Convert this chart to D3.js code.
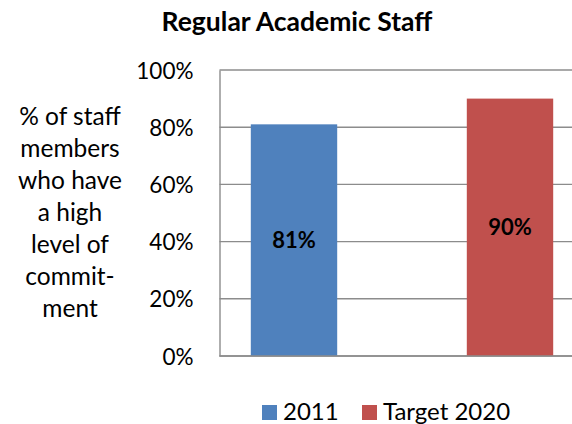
<!DOCTYPE html>
<html lang="en">
<head>
    <meta charset="utf-8" />
    <title>Regular Academic Staff</title>
    <style type="text/css">
        body { margin: 0; background: #fff; }
        text { font-family: Lato, "Open Sans", sans-serif; fill: #000; }
        .grid line { stroke: #8c8c8c; stroke-width: 1.4px; }
    </style>
    <script type="text/javascript" src="https://cdn.jsdelivr.net/npm/d3@7/dist/d3.min.js"></script>
</head>
<body>
    <div id="chart"></div>
    <script type="text/javascript">
        const categories = ['2011', 'Target 2020'];
        const values = [0.81, 0.90];
        const colors = ['#4F81BD', '#C0504D'];
        const yTicks = [0, 0.2, 0.4, 0.6, 0.8, 1.0];
        const yTitle = ['% of staff', 'members', 'who have', 'a high', 'level of', 'commit-', 'ment'];

        const width = 572, height = 424;
        const plot = {left: 219.5, right: 572, top: 70, bottom: 356};

        let svg = d3.select('#chart').append('svg')
            .attr('width', width)
            .attr('height', height);

        let x = d3.scaleBand()
            .domain(categories)
            .range([186, 618])
            .paddingInner(0.6)
            .paddingOuter(0.3);
        let y = d3.scaleLinear().domain([0, 1]).range([plot.bottom, plot.top]);
        const pct = d3.format('.0%');

        // title
        svg.append('text')
            .attr('x', 297)
            .attr('y', 31)
            .attr('text-anchor', 'middle')
            .style('font-size', '26.5px')
            .style('font-weight', 700)
            .text('Regular Academic Staff');

        // gridlines
        svg.append('g')
            .attr('class', 'grid')
            .selectAll('line')
            .data(yTicks)
            .enter().append('line')
            .attr('x1', plot.left)
            .attr('x2', plot.right)
            .attr('y1', (d) => y(d))
            .attr('y2', (d) => y(d));

        // y axis
        let yAxis = svg.append('g')
            .attr('transform', 'translate(' + plot.left + ',0)')
            .call(d3.axisLeft(y).tickValues(yTicks).tickFormat(pct).tickSize(0).tickPadding(26));
        yAxis.select('.domain').attr('stroke', '#8c8c8c').attr('stroke-width', 1.4);
        yAxis.selectAll('text')
            .style('font-family', 'Lato, "Open Sans", sans-serif')
            .style('font-size', '22.5px')
            .attr('dy', '0.36em');

        // bars
        svg.selectAll('.bar')
            .data(categories)
            .enter().append('rect')
            .attr('class', 'bar')
            .attr('x', (d) => x(d))
            .attr('width', x.bandwidth())
            .attr('y', (d, i) => y(values[i]))
            .attr('height', (d, i) => y(0) - y(values[i]))
            .style('fill', (d, i) => colors[i]);

        // bottom axis line
        svg.append('line')
            .attr('x1', plot.left)
            .attr('x2', plot.right)
            .attr('y1', y(0))
            .attr('y2', y(0))
            .attr('stroke', '#8c8c8c')
            .attr('stroke-width', 1.4);

        // value labels
        svg.selectAll('.value')
            .data(categories)
            .enter().append('text')
            .attr('class', 'value')
            .attr('x', (d) => x(d) + x.bandwidth() / 2)
            .attr('y', (d, i) => (y(values[i]) + y(0)) / 2)
            .attr('dy', '0.36em')
            .attr('text-anchor', 'middle')
            .style('font-size', '22px')
            .style('font-weight', 700)
            .text((d, i) => pct(values[i]));

        // y axis title
        svg.append('text')
            .attr('x', 70)
            .attr('y', 125)
            .attr('text-anchor', 'middle')
            .style('font-size', '24.5px')
            .selectAll('tspan')
            .data(yTitle)
            .enter().append('tspan')
            .attr('x', 70)
            .attr('dy', (d, i) => i === 0 ? 0 : 32)
            .text((d) => d);

        // legend
        let legend = svg.selectAll('.legend')
            .data(categories)
            .enter().append('g')
            .attr('class', 'legend')
            .attr('transform', (d, i) => 'translate(' + (262 + i * 100) + ',405)');
        legend.append('rect')
            .attr('width', 15)
            .attr('height', 15)
            .style('fill', (d, i) => colors[i]);
        legend.append('text')
            .attr('x', 21)
            .attr('y', 15)
            .style('font-size', '24px')
            .text((d) => d);
    </script>
</body>
</html>
